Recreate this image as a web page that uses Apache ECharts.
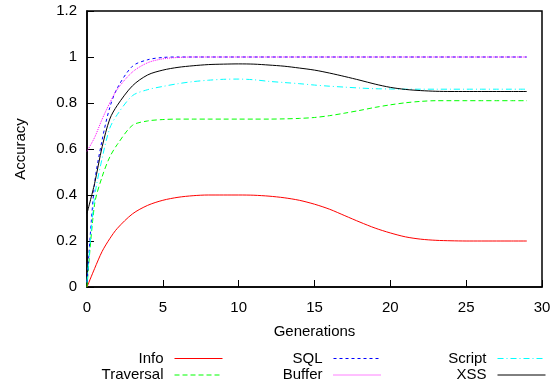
<!DOCTYPE html>
<html>
<head>
<meta charset="utf-8">
<script src="https://cdn.jsdelivr.net/npm/echarts@6/dist/echarts.min.js"></script>
<style>html,body{margin:0;padding:0;background:#fff;}#c{width:554px;height:385px;}</style>
</head>
<body>
<div id="c"></div>
<script>
var gens = [0,0.5,1,1.5,2,3,4,5,6,7,8,9,10,11,12,13,14,15,16,17,18,19,20,21,22,23,24,25,26,27,28,29];
var info =      [0,0.08,0.155,0.21,0.255,0.318,0.355,0.377,0.39,0.397,0.4,0.4,0.4,0.399,0.395,0.388,0.377,0.36,0.338,0.31,0.282,0.256,0.235,0.218,0.208,0.203,0.201,0.2,0.2,0.2,0.2,0.2];
var traversal = [0,0.36,0.48,0.565,0.62,0.703,0.722,0.728,0.73,0.73,0.73,0.73,0.73,0.73,0.73,0.731,0.733,0.737,0.745,0.756,0.768,0.781,0.792,0.801,0.807,0.81,0.81,0.81,0.81,0.81,0.81,0.81];
var sql =       [0.02,0.45,0.64,0.78,0.865,0.96,0.988,0.998,1,1,1,1,1,1,1,1,1,1,1,1,1,1,1,1,1,1,1,1,1,1,1,1];
var buffer =    [0.59,0.65,0.73,0.8,0.86,0.935,0.975,0.992,0.998,1,1,1,1,1,1,1,1,1,1,1,1,1,1,1,1,1,1,1,1,1,1,1];
var script =    [0.02,0.39,0.56,0.69,0.75,0.832,0.858,0.872,0.884,0.893,0.899,0.903,0.904,0.901,0.894,0.889,0.884,0.878,0.873,0.869,0.865,0.862,0.861,0.86,0.86,0.86,0.86,0.86,0.86,0.86,0.86,0.86];
var xss =       [0.32,0.45,0.61,0.73,0.79,0.875,0.922,0.943,0.955,0.962,0.967,0.969,0.97,0.969,0.965,0.96,0.952,0.943,0.93,0.915,0.899,0.882,0.868,0.859,0.854,0.851,0.85,0.85,0.85,0.85,0.85,0.85];
var seriesNames = ['Info','Traversal','SQL','Buffer','Script','XSS'];
var seriesValues = [info, traversal, sql, buffer, script, xss];
var seriesColors = ['#ff0000','#00ff00','#0000ff','#ff00ff','#00ffff','#000000'];
var seriesDash = ['solid',[5,3],[3,3],[1,1],[6,3,1,3],'solid'];

var FONT = 'Liberation Sans';
function zip(v){ return gens.map(function(g,i){ return [g, v[i]]; }); }
var series = seriesNames.map(function(n, k){
  return {
    name: n, type: 'line', data: zip(seriesValues[k]),
    symbol: 'none', smooth: 0.3,
    lineStyle: {color: seriesColors[k], width: 1, type: seriesDash[k]},
    itemStyle: {color: seriesColors[k]},
    animation: false
  };
});
function makeLegend(names, right){
  return {
    data: names.map(function(n){
      var k = seriesNames.indexOf(n);
      return {name: n, lineStyle: {color: seriesColors[k], width: 1, type: seriesDash[k]}, itemStyle: {opacity: 0}};
    }),
    orient: 'vertical', align: 'right', right: right, top: 350.5, padding: 0,
    itemWidth: 48, itemHeight: 8, itemGap: 0.5,
    itemStyle: {opacity: 0},
    lineStyle: {width: 1},
    textStyle: {fontFamily: FONT, fontSize: 15, color: '#000', lineHeight: 16, padding: [0,6,0,0]}
  };
}
var chart = echarts.init(document.getElementById('c'), null, {renderer: 'canvas'});
chart.setOption({
  animation: false,
  backgroundColor: '#fff',
  grid: {left: 87, right: 12, top: 11, bottom: 98, show: true, borderColor: '#000', borderWidth: 1.5, backgroundColor: 'transparent'},
  xAxis: {
    type: 'value', min: 0, max: 30, interval: 5,
    name: 'Generations', nameLocation: 'middle', nameGap: 37,
    nameTextStyle: {fontFamily: FONT, fontSize: 15, color: '#000'},
    axisLine: {show: true, lineStyle: {color: '#000', width: 1.5}},
    axisTick: {show: true, inside: true, length: 7, lineStyle: {color: '#000'}},
    axisLabel: {fontFamily: FONT, fontSize: 15, color: '#000', margin: 13},
    splitLine: {show: false}
  },
  yAxis: {
    type: 'value', min: 0, max: 1.2, interval: 0.2,
    name: 'Accuracy', nameLocation: 'middle', nameGap: 59, nameRotate: 90,
    nameTextStyle: {fontFamily: FONT, fontSize: 15, color: '#000'},
    axisLine: {show: true, lineStyle: {color: '#000', width: 1.5}},
    axisTick: {show: true, inside: true, length: 7, lineStyle: {color: '#000'}},
    axisLabel: {fontFamily: FONT, fontSize: 15, color: '#000', margin: 10},
    splitLine: {show: false}
  },
  legend: [
    makeLegend(['Info','Traversal'], 331),
    makeLegend(['SQL','Buffer'], 172),
    makeLegend(['Script','XSS'], 8)
  ],
  series: series
});
</script>
</body>
</html>
